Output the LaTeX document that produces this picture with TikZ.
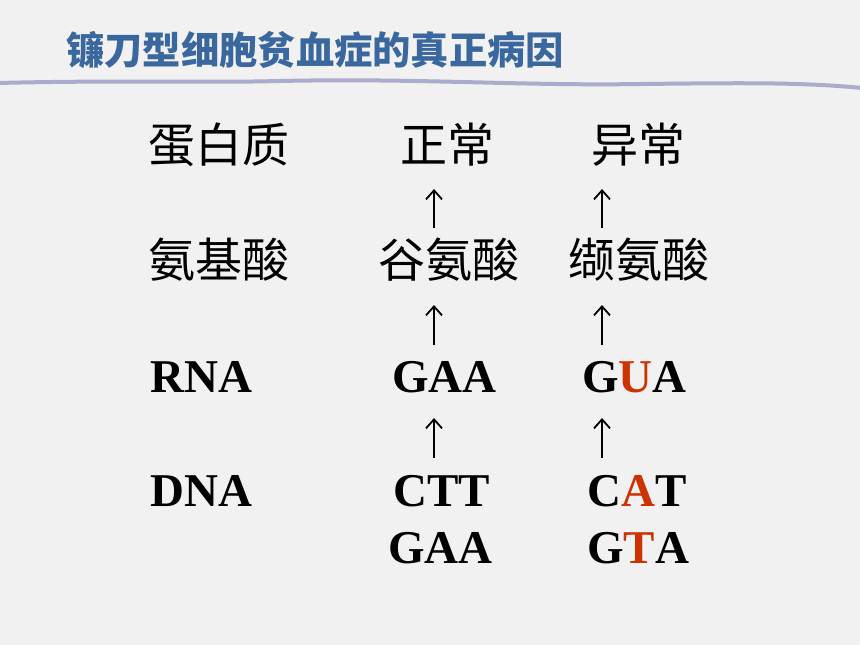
\documentclass[tikz,border=0pt]{standalone}
\usepackage{fontspec}
\setmainfont{Liberation Serif}
\newfontfamily\cjk{Noto Sans CJK SC}
\usetikzlibrary{arrows.meta}
\definecolor{bgc}{HTML}{F1F1F1}
\definecolor{titleblue}{HTML}{3A689E}
\definecolor{wave}{HTML}{ABABCB}
\definecolor{mut}{HTML}{CC3300}
\begin{document}
\begin{tikzpicture}[x=1pt,y=-1pt,
  cn/.style={anchor=west,inner sep=0pt,font=\cjk\fontsize{47}{50}\selectfont},
  lt/.style={anchor=base west,inner sep=0pt,font=\bfseries\fontsize{47}{50}\selectfont},
  upar/.style={line width=1.8pt,-{Straight Barb[length=9pt,width=16pt,line width=1.8pt]}}]
\fill[bgc] (0,0) rectangle (860,645);
\useasboundingbox (0,0) rectangle (860,645);
% title
\node[anchor=west,inner sep=0pt,text=titleblue,font=\cjk\bfseries\fontsize{38.3}{40}\selectfont] (title) at (66,50.5) {镰刀型细胞贫血症的真正病因};
\draw[wave,line width=4pt,line cap=round] (-2,83) .. controls (120,80) and (200,83) .. (280,81)
  .. controls (420,78) and (520,86) .. (640,84) .. controls (740,83) and (800,82) .. (862,88);
% row 1
\node[cn] (prot) at (148,145) {蛋白质};
\node[cn] (norm) at (400,145) {正常};
\node[cn] (abn) at (591,145) {异常};
% row 2
\node[cn] (aa) at (148,260) {氨基酸};
\node[cn] (glu) at (378,260) {谷氨酸};
\node[cn] (val) at (568,260) {缬氨酸};
% row 3
\node[lt] (rna) at (150,392) {RNA};
\node[lt] (rn) at (392,392) {GAA};
\node[lt] (ra) at (582,392) {G\textcolor{mut}{U}A};
% row 4
\node[lt] (dna) at (150,506) {DNA};
\node[lt] (dn1) at (393,506) {CTT};
\node[lt] (da1) at (587,506) {C\textcolor{mut}{A}T};
% row 5
\node[lt] (dn2) at (388,563) {GAA};
\node[lt] (da2) at (587,563) {G\textcolor{mut}{T}A};
% arrow endpoints
\coordinate (a1s) at (434,228); \coordinate (a1e) at (434,189);
\coordinate (a2s) at (602,228); \coordinate (a2e) at (602,189);
\coordinate (b1s) at (434,345); \coordinate (b1e) at (434,305);
\coordinate (b2s) at (602,345); \coordinate (b2e) at (602,305);
\coordinate (c1s) at (434,458); \coordinate (c1e) at (434,418);
\coordinate (c2s) at (602,458); \coordinate (c2e) at (602,418);
\draw[upar] (a1s) -- (a1e);
\draw[upar] (a2s) -- (a2e);
\draw[upar] (b1s) -- (b1e);
\draw[upar] (b2s) -- (b2e);
\draw[upar] (c1s) -- (c1e);
\draw[upar] (c2s) -- (c2e);
\end{tikzpicture}
\end{document}
